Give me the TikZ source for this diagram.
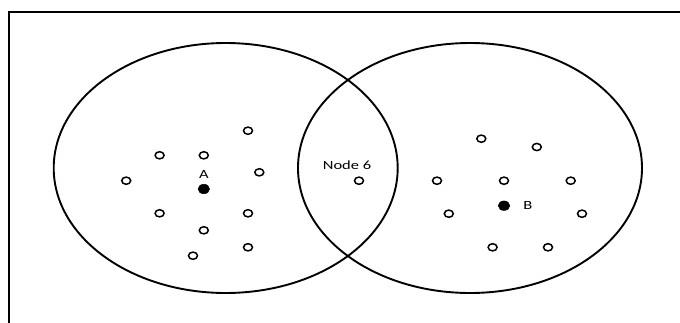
\documentclass[tikz,border=0pt]{standalone}
\usepackage{fontspec}
\setmainfont{Carlito}
\usetikzlibrary{shapes.geometric}
\tikzset{
  bigset/.style={draw, ellipse, line width=1.9pt, minimum width=344pt, minimum height=250pt, inner sep=0pt},
  opennode/.style={draw, ellipse, line width=1.5pt, minimum width=9pt, minimum height=7.2pt, inner sep=0pt},
  fillnode/.style={draw, fill=black, ellipse, line width=0.5pt, minimum width=11.5pt, minimum height=9.5pt, inner sep=0pt},
  lbl/.style={font=\fontsize{12.5}{14}\selectfont, inner sep=0pt}
}
\newcommand{\wide}[1]{\scalebox{1.32}[1]{#1}}
\begin{document}
\begin{tikzpicture}[x=1pt,y=-1pt]
\useasboundingbox (0,0) rectangle (680,322);
\draw[line width=1.9pt] (9,330) -- (9,12) -- (690,12);
\node[bigset] (L) at (225.7,168) {};
\node[bigset] (R) at (470,168) {};
% left set
\node[opennode] (l1) at (248,130.7) {};
\node[opennode] (l2) at (159.6,155.3) {};
\node[opennode] (l3) at (203.8,155.3) {};
\node[opennode] (l4) at (259.3,172.3) {};
\node[opennode] (l5) at (126.2,180.7) {};
\node[fillnode] (A) at (203.8,189) {};
\node[lbl] (Alab) at (203.8,174) {\wide{A}};
\node[opennode] (l6) at (159.6,213.3) {};
\node[opennode] (l7) at (248,213.3) {};
\node[opennode] (l8) at (203.8,230.3) {};
\node[opennode] (l9) at (248,247.3) {};
\node[opennode] (l10) at (193,255.7) {};
% middle
\node[lbl] (n6lab) at (347,165.7) {\wide{Node 6}};
\node[opennode] (n6) at (359,180.7) {};
% right set
\node[opennode] (r1) at (481.3,138.7) {};
\node[opennode] (r2) at (536.8,147) {};
\node[opennode] (r3) at (437,180.7) {};
\node[opennode] (r4) at (504,180.7) {};
\node[opennode] (r5) at (570.7,180.7) {};
\node[fillnode] (B) at (504,205.7) {};
\node[lbl] (Blab) at (527.8,205.7) {\wide{B}};
\node[opennode] (r6) at (448.8,213.7) {};
\node[opennode] (r7) at (582,213.7) {};
\node[opennode] (r8) at (492.6,247.3) {};
\node[opennode] (r9) at (548,247.3) {};
\end{tikzpicture}
\end{document}
